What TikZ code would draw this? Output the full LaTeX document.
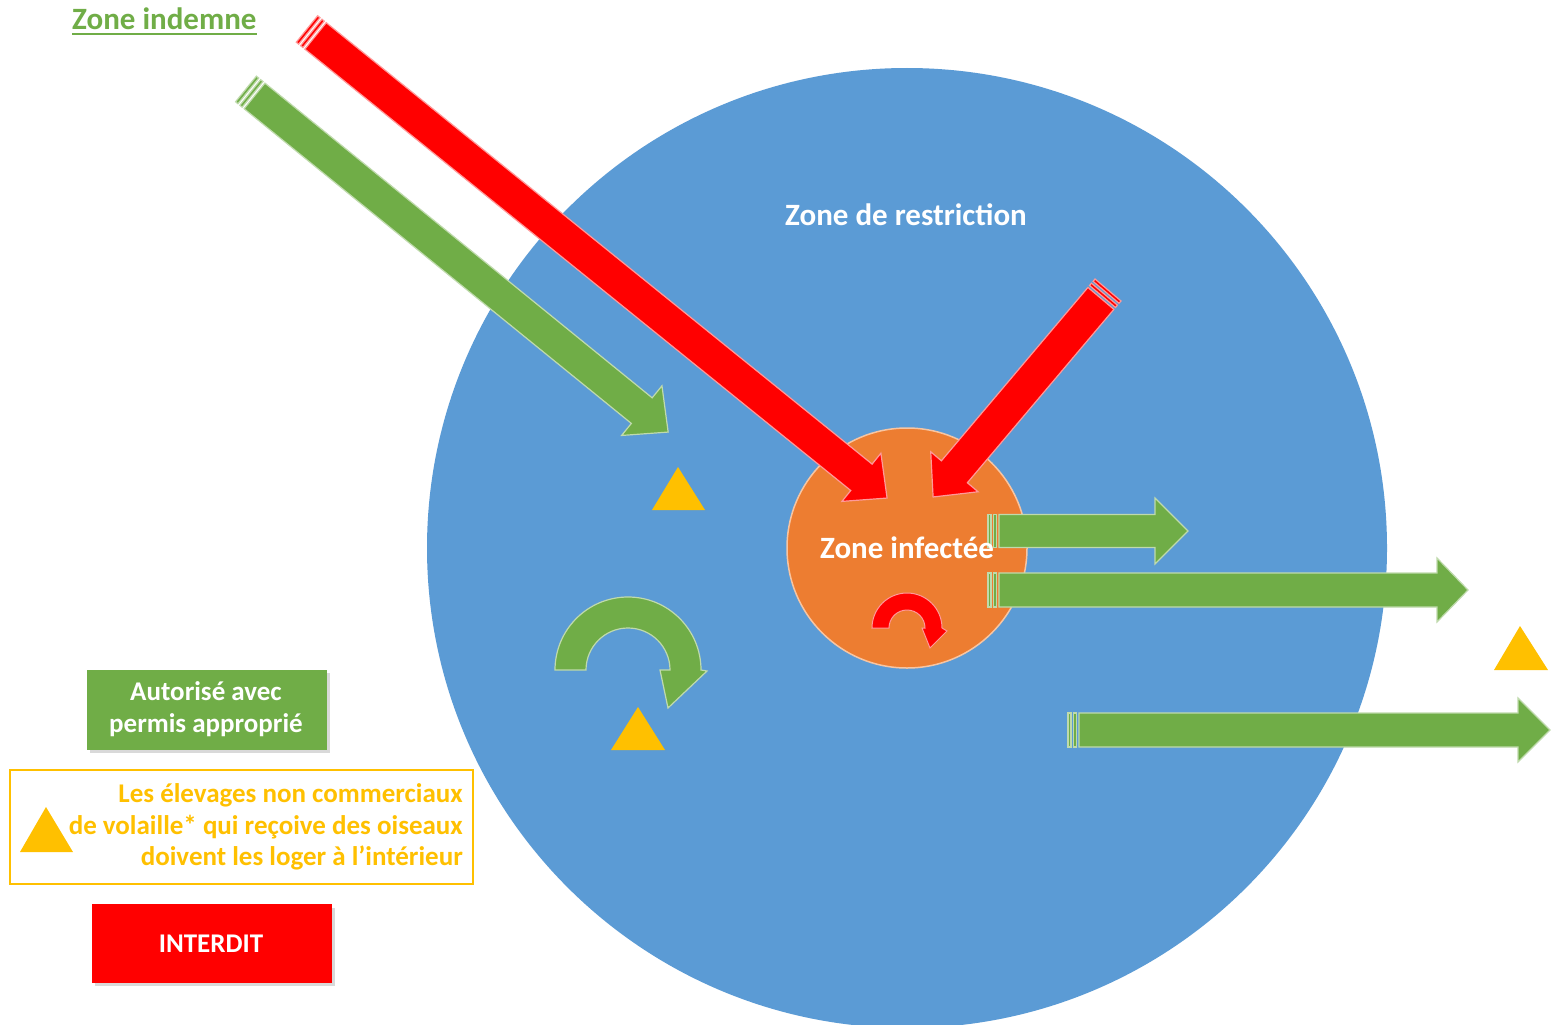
\documentclass[tikz,border=0pt]{standalone}
\usepackage{fontspec}
\setmainfont{Carlito}
\definecolor{zblue}{HTML}{5B9BD5}
\definecolor{zorange}{HTML}{ED7D31}
\definecolor{zgreen}{HTML}{70AD47}
\definecolor{zred}{HTML}{FF0000}
\definecolor{zyellow}{HTML}{FFC000}
\newcommand{\stripearrow}[8]{%
  \begin{scope}[shift={(#1)}, rotate=#2]
    \filldraw[fill=#7, draw=#8, line width=1.2] (0,-#4) rectangle (3,#4);
    \filldraw[fill=#7, draw=#8, line width=1.2] (5.5,-#4) rectangle (8.5,#4);
    \filldraw[fill=#7, draw=#8, line width=1.2] (11,-#4) -- (#3-#6,-#4) -- (#3-#6,-#5) -- (#3,0) -- (#3-#6,#5) -- (#3-#6,#4) -- (11,#4) -- cycle;
  \end{scope}}
\tikzset{
  lbl/.style={font=\fontsize{31}{37}\selectfont\bfseries, text=white, inner sep=0},
  legtxt/.style={font=\fontsize{27}{31.5}\selectfont\bfseries, inner sep=0},
  shadowbox/.style={fill=black, opacity=0.15},
}
\begin{document}
\begin{tikzpicture}[x=1pt,y=-1pt]
\useasboundingbox (0,0) rectangle (1555,1025);
\clip (0,0) rectangle (1555,1025);
\fill[white] (0,0) rectangle (1555,1025);

% zones
\node[circle, fill=zblue, minimum size=960, inner sep=0] (restr) at (907,548) {};
\node[circle, fill=zorange, draw=zorange!45!white, line width=1.5, minimum size=240, inner sep=0] (inf) at (907,548) {};

% named tails
\coordinate (rt1) at (307,29);
\coordinate (gt1) at (246,89);
\coordinate (rt2) at (1108,290);
\coordinate (gtA) at (988,531);
\coordinate (gtB) at (988,590);
\coordinate (gtC) at (1068,730);

% diagonal arrows
\stripearrow{gt1}{-39.1}{544}{16.5}{32}{34}{zgreen}{zgreen!45!white}
\stripearrow{rt1}{-38.96}{746}{17}{31}{33}{zred}{zred!40!white}
\stripearrow{rt2}{-130.2}{271}{17}{31}{33}{zred}{zred!40!white}

% horizontal arrows
\stripearrow{gtA}{0}{200}{16.5}{33}{33}{zgreen}{zgreen!45!white}
\stripearrow{gtB}{0}{480}{17}{32}{31}{zgreen}{zgreen!45!white}
\stripearrow{gtC}{0}{482}{17}{32}{32}{zgreen}{zgreen!45!white}

% circular arrows
\filldraw[fill=zgreen, draw=zgreen!45!white, line width=1.2]
  (555,670) arc[start angle=180, end angle=360, radius=73] -- (707,671) -- (668,708) -- (660,670) -- (670,670)
  arc[start angle=360, end angle=180, radius=42] -- cycle;
\filldraw[fill=zred, draw=zred!40!white, line width=1]
  (872,628) arc[start angle=180, end angle=360, radius=35] -- (947,631) -- (930,648) -- (922,628) -- (925,628)
  arc[start angle=360, end angle=180, radius=18] -- cycle;

% triangles
\fill[zyellow] (678,467) -- (705,510) -- (652,510) -- cycle;
\fill[zyellow] (638,707) -- (665,750) -- (611,750) -- cycle;
\fill[zyellow] (1520,626) -- (1548,670) -- (1494,670) -- cycle;

% labels
\node[lbl] (tr) at (906,215) {Zone de restriction};
\node[lbl] (ti) at (907,548) {Zone infectée};
\node[lbl, text=zgreen, anchor=west] (zi) at (72,19) {Zone indemne};
\draw[zgreen, line width=2] ([yshift=-4]zi.south west) -- ([yshift=-4]zi.south east);

% legend
\fill[shadowbox] (90,673) rectangle (330,753);
\node[fill=zgreen, minimum width=240, minimum height=80, inner sep=0, anchor=north west] (lg) at (87,670) {};
\node[legtxt, text=white, align=center] at (206,709) {Autorisé avec\\permis approprié};

\draw[zyellow, line width=1.5] (10,770) rectangle (473,884);
\fill[zyellow] (46,807) -- (73,852) -- (20,852) -- cycle;
\node[legtxt, text=zyellow, align=right, anchor=east] at (463,827) {Les élevages non commerciaux\\de volaille* qui reçoive des oiseaux\\doivent les loger à l’intérieur};

\fill[shadowbox] (95,908) rectangle (335,986);
\node[fill=zred, minimum width=240, minimum height=79, inner sep=0, anchor=north west] (lr) at (92,904) {};
\node[legtxt, text=white] at (211,944) {INTERDIT};
\end{tikzpicture}
\end{document}
